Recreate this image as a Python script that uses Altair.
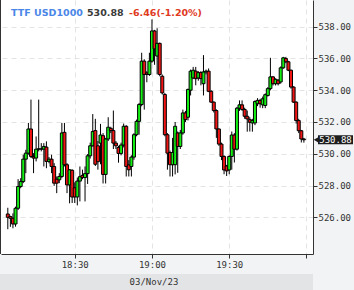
import altair as alt
import pandas as pd

# ---------------- data ----------------
start_time = "2023-11-03 18:04"
opens = [526.21, 526.05, 525.94, 525.58, 526.57, 527.94, 528.25, 529.66, 530.04, 531.56,
         529.83, 529.73, 530.29, 530.30, 530.29, 530.42, 529.52, 529.66, 529.20, 528.40,
         528.36, 528.57, 531.35, 529.31, 528.04, 528.96, 527.86, 527.28, 528.28, 528.64,
         528.50, 528.75, 529.87, 530.50, 531.46, 530.50, 530.67, 531.14, 528.70, 530.93,
         531.60, 531.46, 530.67, 530.40, 530.02, 530.55, 531.73, 529.30, 529.20, 529.79,
         531.20, 532.04, 533.10, 535.83, 535.09, 534.99, 535.83, 537.73, 536.15, 536.95,
         534.88, 533.73, 531.20, 530.08, 529.31, 529.31, 531.31, 530.46, 531.31, 532.57,
         532.30, 534.00, 534.77, 535.20, 534.77, 535.11, 534.41, 535.15, 535.20, 533.93,
         533.25, 532.72, 531.56, 530.61, 529.83, 529.23, 528.98, 529.83, 531.18, 530.29,
         532.87, 533.08, 532.79, 532.36, 532.15, 531.94, 531.94, 533.15, 533.36, 533.08,
         533.04, 533.67, 534.10, 534.84, 534.41, 534.63, 534.52, 535.41, 536.00, 535.79,
         535.26, 534.20, 533.25, 532.09, 531.45, 530.93]
highs = [526.60, 526.10, 526.25, 526.67, 528.40, 528.46, 529.94, 530.25, 531.94, 533.41,
         530.04, 531.09, 533.41, 530.67, 530.67, 530.78, 529.80, 529.94, 529.41, 528.57,
         528.78, 531.94, 531.94, 529.41, 529.03, 529.02, 528.20, 528.50, 529.20, 529.00,
         529.20, 529.98, 530.70, 532.50, 532.20, 530.80, 531.88, 531.30, 531.00, 532.30,
         531.70, 532.72, 530.80, 530.50, 530.70, 531.90, 531.80, 529.60, 529.90, 531.30,
         532.15, 533.20, 536.36, 535.95, 535.20, 536.36, 538.46, 537.80, 537.90, 537.00,
         534.99, 533.83, 531.30, 530.20, 531.00, 532.00, 531.40, 531.50, 532.78, 532.70,
         534.10, 535.30, 535.47, 535.47, 535.20, 535.20, 536.21, 535.30, 535.37, 534.00,
         533.30, 532.80, 531.60, 530.70, 529.90, 529.30, 529.90, 531.40, 531.30, 532.95,
         533.36, 533.36, 532.90, 532.72, 532.30, 532.20, 533.36, 533.50, 533.46, 533.60,
         533.80, 534.20, 536.04, 534.90, 534.75, 534.70, 535.50, 536.10, 536.10, 535.85,
         535.30, 534.25, 533.30, 532.20, 531.50, 531.00]
lows = [525.25, 525.40, 525.31, 525.41, 526.46, 527.83, 528.15, 528.78, 529.94, 529.73,
        528.78, 529.52, 530.15, 530.15, 529.20, 529.09, 529.40, 528.78, 527.98, 527.52,
        528.15, 528.46, 529.20, 527.52, 526.88, 526.90, 526.90, 526.75, 527.00, 528.40,
        527.00, 528.10, 529.70, 530.45, 529.23, 529.00, 529.34, 528.13, 528.13, 530.80,
        531.30, 530.30, 530.30, 529.44, 529.90, 530.40, 528.57, 528.57, 528.57, 529.62,
        531.10, 531.20, 532.99, 532.78, 534.50, 534.90, 535.73, 535.60, 535.00, 534.88,
        533.73, 531.10, 529.00, 528.57, 528.57, 528.70, 528.80, 530.30, 531.20, 532.00,
        532.10, 533.67, 534.70, 534.31, 534.60, 534.31, 533.67, 535.00, 533.88, 533.20,
        532.60, 531.00, 530.50, 529.60, 528.71, 528.60, 528.71, 529.00, 529.45, 530.20,
        532.70, 532.70, 532.20, 531.39, 531.40, 531.39, 531.80, 533.00, 532.90, 532.87,
        532.87, 533.60, 533.99, 534.30, 534.30, 534.30, 534.41, 535.35, 535.70, 535.20,
        534.10, 533.20, 531.90, 531.30, 530.71, 530.70]
closes = [526.00, 525.94, 525.58, 526.57, 527.94, 528.25, 529.66, 530.04, 531.56, 529.83,
          529.73, 530.29, 530.31, 530.30, 530.46, 529.52, 529.66, 529.20, 528.15, 528.15,
          528.57, 531.31, 529.31, 528.04, 528.99, 527.28, 527.28, 528.28, 528.56, 528.50,
          528.75, 529.87, 530.50, 531.40, 529.34, 529.50, 531.18, 528.70, 530.93, 531.67,
          531.46, 530.67, 530.50, 530.02, 530.55, 531.73, 529.20, 528.99, 529.79, 531.20,
          532.04, 533.10, 535.83, 534.99, 534.99, 535.83, 537.73, 536.60, 536.95, 534.99,
          533.83, 531.20, 530.04, 529.31, 530.08, 531.73, 530.46, 531.31, 532.57, 532.15,
          534.05, 535.20, 535.26, 534.73, 535.11, 534.73, 535.15, 535.20, 533.93, 533.25,
          532.72, 531.56, 530.61, 529.83, 528.98, 528.92, 529.83, 531.18, 530.29, 532.87,
          533.08, 532.79, 532.36, 532.19, 531.98, 532.09, 533.29, 533.36, 533.15, 533.46,
          533.72, 534.10, 534.84, 534.41, 534.69, 534.41, 535.41, 536.04, 535.79, 535.26,
          534.20, 533.25, 532.09, 531.45, 530.93, 530.88]

y_ticks = [526, 528, 530, 532, 534, 536, 538]
x_ticks = ["18:30", "19:00", "19:30", "20:00"]
title_symbol = "TTF USD1000"
title_last = "530.88"
title_change = "-6.46(-1.20%)"
date_label = "03/Nov/23"

# ---------------- styling ----------------
GREEN = "#13ef13"
RED = "#f01414"
MONO = "DejaVu Sans Mono"

times = pd.date_range(start_time, periods=len(closes), freq="1min").strftime("%Y-%m-%dT%H:%M:%S").tolist()
df = pd.DataFrame({"t": times, "open": opens, "high": highs, "low": lows, "close": closes})


def dt(hhmm, sec=0):
    h, m = hhmm.split(":")
    return alt.DateTime(year=2023, month=11, date=3, hours=int(h), minutes=int(m), seconds=sec)


xscale = alt.Scale(domain=[dt("18:03", 18), dt("20:00", 36)])
yscale = alt.Scale(domain=[523.69, 539.68], nice=False, zero=False)

xaxis = alt.Axis(values=[dt(v) for v in x_ticks], format="%H:%M",
                 labelExpr="hours(datum.value) == 20 ? '' : timeFormat(datum.value, '%H:%M')",
                 title=None, labelFont=MONO, labelFontSize=9, labelColor="#333",
                 tickSize=4, tickColor="#333", domainColor="#333", labelPadding=2,
                 labelOverlap=False, labelFlush=False,
                 grid=True, gridColor="#e4e4e4", gridDash=[5, 4])
yaxis = alt.Axis(values=y_ticks, format=".2f", orient="right", title=None,
                 labelFont=MONO, labelFontSize=9, labelColor="#333",
                 tickSize=4, tickColor="#333", domainColor="#333", labelPadding=1,
                 labelOverlap=False, labelFlush=False,
                 grid=True, gridColor="#e4e4e4", gridDash=[5, 4])

base = alt.Chart(df)
wicks = base.mark_rule(color="black", strokeWidth=1).encode(
    x=alt.X("t:T", scale=xscale, axis=xaxis),
    y=alt.Y("low:Q", scale=yscale, axis=yaxis),
    y2="high:Q",
)
bodies = base.mark_bar(width=3, stroke="black", strokeWidth=1).encode(
    x=alt.X("t:T", scale=xscale, axis=xaxis),
    y=alt.Y("open:Q", scale=yscale, axis=yaxis),
    y2="close:Q",
    fill=alt.condition("datum.close >= datum.open", alt.value(GREEN), alt.value(RED)),
)

# left border of plot
left_border = alt.Chart(pd.DataFrame({"a": [0]})).mark_rule(color="#333", strokeWidth=1).encode(
    x=alt.value(-0.5), y=alt.value(0), y2=alt.value(254))

# title texts
def text_layer(s, xpos, color):
    return alt.Chart(pd.DataFrame({"s": [s]})).mark_text(
        font="DejaVu Sans", fontSize=9.5, fontWeight="bold", align="left", baseline="alphabetic",
        color=color).encode(text="s:N", x=alt.value(xpos), y=alt.value(15.5))

t1 = text_layer(title_symbol, 10, "#4a86e8")
t2 = text_layer(title_last, 86, "#3a3a3a")
t3 = text_layer(title_change, 128, "#e03a1e")

# date strip
strip = alt.Chart(pd.DataFrame({"a": [0]})).mark_rect(color="#e3e4e6").encode(
    x=alt.value(-1), x2=alt.value(312), y=alt.value(274), y2=alt.value(290))
date_text = alt.Chart(pd.DataFrame({"s": [date_label]})).mark_text(
    font=MONO, fontSize=9, color="#333", align="center", baseline="middle").encode(
    text="s:N", x=alt.value(153), y=alt.value(282))

# last price marker
last_df = pd.DataFrame({"p": [closes[-1]], "s": [f"{closes[-1]:.2f}"]})
ly = alt.Y("p:Q", scale=yscale, axis=yaxis)
marker_box = alt.Chart(last_df).mark_rule(color="#1e1e1e", strokeWidth=9).encode(
    y=ly, x=alt.value(317), x2=alt.value(352))
marker_arrow = alt.Chart(last_df).mark_point(shape="triangle-left", filled=True, size=28,
                                             color="#1e1e1e", opacity=1).encode(
    y=ly, x=alt.value(315))
marker_text = alt.Chart(last_df).mark_text(font=MONO, fontSize=9, color="white",
                                           align="center", baseline="middle").encode(
    y=ly, x=alt.value(334.5), text="s:N")

chart = alt.layer(
    strip, date_text, wicks, bodies, left_border, t1, t2, t3,
    marker_box, marker_arrow, marker_text
).properties(
    width=312, height=254,
    padding={"left": 1, "top": 0, "right": 41, "bottom": 36},
    autosize=alt.AutoSizeParams(type="none"),
    background="#f2f3f5",
).configure_view(stroke=None, fill="white")

chart.save("out.html", embed_options={"renderer": "svg", "actions": False})
